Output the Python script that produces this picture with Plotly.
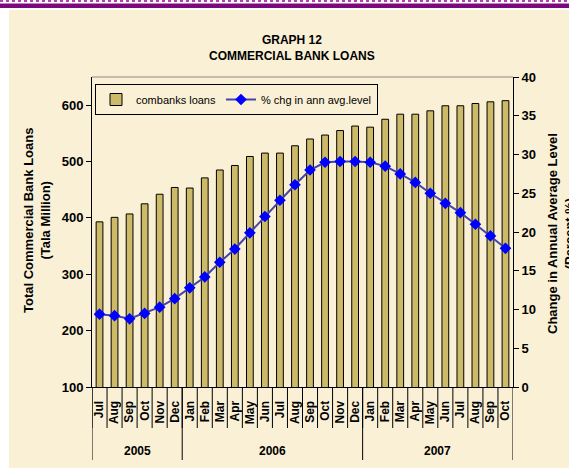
import plotly.graph_objects as go

years = ["2005"] * 6 + ["2006"] * 12 + ["2007"] * 10
months = ["Jul", "Aug", "Sep", "Oct", "Nov", "Dec",
          "Jan", "Feb", "Mar", "Apr", "May", "Jun", "Jul", "Aug", "Sep", "Oct", "Nov", "Dec",
          "Jan", "Feb", "Mar", "Apr", "May", "Jun", "Jul", "Aug", "Sep", "Oct"]
loans = [393, 401, 407, 425, 442, 454,
         453, 471, 485, 493, 509, 515, 515, 528, 540, 547, 555, 563,
         561, 575, 584, 584, 590, 599, 599, 603, 606, 608]
pct_chg = [9.4, 9.2, 8.8, 9.5, 10.3, 11.4,
           12.8, 14.2, 16.1, 17.8, 19.9, 22.0, 24.1, 26.1, 28.0, 29.0, 29.1, 29.1,
           29.0, 28.5, 27.5, 26.4, 25.0, 23.7, 22.5, 21.0, 19.5, 17.9]
year_labels = ["2005", "2006", "2007"]

keys = [f"{m} {y}" for m, y in zip(months, years)]

FONT = "Liberation Sans Narrow, Arial Narrow, Liberation Sans, Arial, sans-serif"

fig = go.Figure()
fig.add_trace(go.Bar(
    x=keys, y=loans, name="combanks loans",
    marker=dict(color="#CDBA68", line=dict(color="black", width=1)),
))
fig.add_trace(go.Scatter(
    x=keys, y=pct_chg, name="% chg in ann avg.level", yaxis="y2",
    mode="lines+markers",
    line=dict(color="#4545A8", width=2),
    marker=dict(symbol="diamond", size=9, color="#0000FF"),
))

W, H = 569, 473
L, R, T, B = 92, 56, 77, 86
pw, ph = W - L - R, H - T - B

def px(x):
    return (x - L) / pw

def py(y):
    return (H - B - y) / ph

shapes = [
    dict(type="rect", xref="paper", yref="paper", x0=px(9), x1=px(569), y0=py(468), y1=py(10),
         fillcolor="#FAF0D6", line=dict(width=0), layer="below"),
    dict(type="rect", xref="paper", yref="paper", x0=px(0), x1=px(569), y0=py(8), y1=py(3.5),
         fillcolor="#7D0A7D", line=dict(width=0), layer="above"),
    dict(type="line", xref="paper", yref="paper", x0=px(0), x1=px(569), y0=py(1), y1=py(1),
         line=dict(color="#B040B0", width=2, dash="dot"), layer="above"),
    dict(type="line", xref="paper", yref="paper", x0=0, x1=1, y0=1, y1=1,
         line=dict(color="#8A8A8A", width=1)),
]

# month separators and year dividers (category boundaries)
annotations = []
start = 0
for yl in year_labels:
    n = years.count(yl)
    for i in range(start, start + n):
        shapes.append(dict(type="line", xref="x", yref="paper", x0=i - 0.5, x1=i - 0.5,
                           y0=0, y1=py(428), line=dict(color="black", width=1)))
    shapes.append(dict(type="line", xref="x", yref="paper", x0=start - 0.5, x1=start - 0.5,
                       y0=0, y1=py(460), line=dict(color="black", width=1)))
    annotations.append(dict(text=f"<b>{yl}</b>", xref="x", yref="paper",
                            x=start + (n - 1) / 2, y=py(451), showarrow=False,
                            font=dict(size=12, family=FONT), yanchor="middle"))
    start += n
shapes.append(dict(type="line", xref="x", yref="paper", x0=start - 0.5, x1=start - 0.5,
                   y0=0, y1=py(460), line=dict(color="black", width=1)))

annotations.append(dict(text="<b>GRAPH 12<br>COMMERCIAL BANK LOANS</b>", xref="paper", yref="paper",
                        x=px(291.5), y=py(48.5), xanchor="center", yanchor="middle",
                        showarrow=False, font=dict(size=12, family=FONT)))
# axis titles
annotations.append(dict(text="<b>Total Commercial Bank Loans<br>(Tala Million)</b>",
                        xref="paper", yref="paper", x=px(37), y=py(221),
                        xanchor="center", yanchor="middle", textangle=-90, showarrow=False,
                        font=dict(size=13, family=FONT)))
annotations.append(dict(text="<b>Change in Annual Average Level<br>(Percent %)</b>",
                        xref="paper", yref="paper", x=px(561), y=py(234),
                        xanchor="center", yanchor="middle", textangle=-90, showarrow=False,
                        font=dict(size=13, family=FONT)))

fig.update_layout(
    width=W, height=H,
    margin=dict(l=L, r=R, t=T, b=B, autoexpand=False),
    paper_bgcolor="white",
    plot_bgcolor="rgba(0,0,0,0)",
    font=dict(family=FONT, color="black", size=12),
    bargap=0.55,
    showlegend=True,
    legend=dict(orientation="h", x=px(95), y=py(84), xanchor="left", yanchor="top",
                bordercolor="black", borderwidth=1, bgcolor="rgba(0,0,0,0)",
                font=dict(size=11, family=FONT), itemwidth=30),
    xaxis=dict(
        type="category", tickangle=-90, showline=True, linecolor="black", linewidth=1,
        ticks="outside", ticklen=8, tickcolor="rgba(0,0,0,0)",
        tickmode="array", tickvals=keys, ticktext=months,
        tickfont=dict(size=12, family=FONT, weight="bold"), automargin=False,
        range=[-0.5, len(keys) - 0.5],
    ),
    yaxis=dict(
        range=[100, 650], tickvals=[100, 200, 300, 400, 500, 600],
        showline=True, linecolor="black", linewidth=1, ticks="outside", ticklen=5,
        tickcolor="black", showgrid=False, zeroline=False, automargin=False,
        tickfont=dict(size=13, family=FONT, weight="bold"),
    ),
    yaxis2=dict(
        range=[0, 40], tickvals=list(range(0, 41, 5)), overlaying="y", side="right",
        showline=True, linecolor="black", linewidth=1, ticks="outside", ticklen=5,
        tickcolor="black", showgrid=False, zeroline=False, automargin=False,
        tickfont=dict(size=13, family=FONT, weight="bold"),
    ),
    shapes=shapes,
    annotations=annotations,
)

fig.write_html("out.html", config={"displayModeBar": False},
               post_script="document.body.style.margin='0';")
